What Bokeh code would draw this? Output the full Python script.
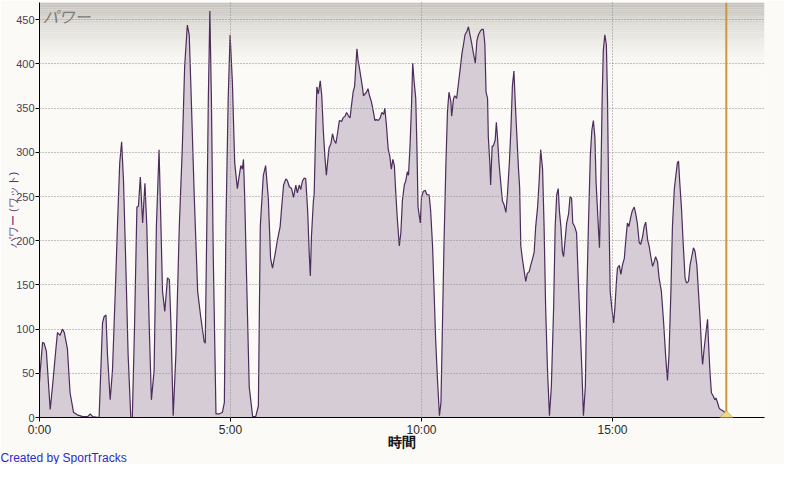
from bokeh.plotting import figure
from bokeh.models import FixedTicker, Span, Label, BoxAnnotation, PolyAnnotation, Title
from bokeh.embed import file_html
from bokeh.resources import INLINE

# ---- data (time in minutes, power in watts) ----
time_min = [
    0.00, 0.02, 0.08, 0.12, 0.18, 0.28, 0.34, 0.43, 0.47, 0.54, 0.60, 0.65, 0.73, 0.80, 0.89, 0.99,
    1.13, 1.26, 1.33, 1.39, 1.56, 1.65, 1.69, 1.74, 1.78, 1.85, 1.91, 2.00, 2.04, 2.10, 2.15, 2.20,
    2.26, 2.32, 2.39, 2.43, 2.49, 2.55, 2.59, 2.64, 2.70, 2.76, 2.81, 2.87, 2.93, 3.00, 3.06, 3.13,
    3.18, 3.22, 3.28, 3.35, 3.40, 3.44, 3.50, 3.57, 3.66, 3.74, 3.80, 3.87, 3.92, 3.96, 4.05, 4.14,
    4.22, 4.31, 4.34, 4.38, 4.42, 4.46, 4.50, 4.55, 4.62, 4.70, 4.79, 4.84, 4.88, 4.94, 4.99, 5.05,
    5.11, 5.18, 5.23, 5.27, 5.31, 5.34, 5.37, 5.43, 5.49, 5.58, 5.66, 5.73, 5.78, 5.86, 5.92, 5.99,
    6.05, 6.10, 6.16, 6.23, 6.30, 6.34, 6.39, 6.45, 6.49, 6.54, 6.60, 6.65, 6.71, 6.75, 6.80, 6.84,
    6.88, 6.93, 6.97, 7.02, 7.06, 7.09, 7.12, 7.17, 7.19, 7.23, 7.26, 7.30, 7.35, 7.39, 7.43, 7.47,
    7.51, 7.54, 7.58, 7.63, 7.67, 7.71, 7.76, 7.80, 7.85, 7.91, 7.95, 8.00, 8.04, 8.09, 8.13, 8.17,
    8.21, 8.25, 8.28, 8.31, 8.34, 8.37, 8.41, 8.46, 8.48, 8.52, 8.56, 8.60, 8.64, 8.69, 8.74, 8.78,
    8.82, 8.87, 8.92, 8.96, 9.01, 9.04, 9.08, 9.13, 9.17, 9.21, 9.25, 9.29, 9.33, 9.37, 9.42, 9.46,
    9.50, 9.55, 9.59, 9.63, 9.66, 9.70, 9.74, 9.77, 9.81, 9.85, 9.88, 9.91, 9.97, 10.00, 10.05, 10.10,
    10.14, 10.20, 10.24, 10.29, 10.33, 10.37, 10.42, 10.47, 10.51, 10.55, 10.59, 10.64, 10.68, 10.72, 10.77, 10.79,
    10.84, 10.87, 10.92, 10.96, 11.01, 11.06, 11.10, 11.14, 11.19, 11.23, 11.27, 11.32, 11.36, 11.41, 11.45, 11.49,
    11.54, 11.58, 11.62, 11.66, 11.69, 11.73, 11.75, 11.79, 11.81, 11.85, 11.88, 11.93, 11.96, 11.99, 12.03, 12.08,
    12.12, 12.16, 12.21, 12.25, 12.30, 12.34, 12.38, 12.42, 12.45, 12.49, 12.54, 12.57, 12.60, 12.64, 12.69, 12.73,
    12.77, 12.82, 12.86, 12.91, 12.95, 12.99, 13.04, 13.08, 13.12, 13.17, 13.21, 13.25, 13.30, 13.35, 13.40, 13.46,
    13.50, 13.54, 13.58, 13.61, 13.65, 13.69, 13.72, 13.76, 13.80, 13.85, 13.89, 13.93, 13.96, 14.01, 14.06, 14.10,
    14.15, 14.20, 14.24, 14.29, 14.33, 14.37, 14.42, 14.46, 14.50, 14.54, 14.57, 14.63, 14.66, 14.69, 14.73, 14.76,
    14.80, 14.84, 14.87, 14.90, 14.94, 14.98, 15.03, 15.06, 15.10, 15.13, 15.18, 15.22, 15.26, 15.31, 15.35, 15.39,
    15.43, 15.48, 15.52, 15.57, 15.61, 15.65, 15.70, 15.74, 15.79, 15.83, 15.87, 15.92, 15.96, 16.00, 16.05, 16.09,
    16.13, 16.18, 16.22, 16.28, 16.34, 16.39, 16.44, 16.48, 16.53, 16.57, 16.62, 16.66, 16.70, 16.73, 16.76, 16.81,
    16.85, 16.90, 16.94, 16.99, 17.03, 17.08, 17.12, 17.16, 17.21, 17.25, 17.30, 17.34, 17.36, 17.40, 17.44, 17.49,
    17.51, 17.55, 17.59, 17.64, 17.68, 17.71, 17.75, 17.79, 17.83, 17.88, 17.94, 17.99,
]
power_w = [
    40, 53, 85, 84, 75, 9, 35, 78, 96, 93, 100, 96, 78, 28, 6, 3,
    1, 1, 4, 1, 0, 107, 114, 116, 71, 20, 53, 162, 216, 288, 312, 267,
    172, 71, 0, 0, 107, 238, 239, 272, 220, 265, 216, 107, 20, 53, 216, 303,
    216, 143, 120, 158, 156, 107, 2, 71, 216, 307, 397, 444, 433, 379, 252, 143,
    114, 86, 84, 216, 361, 460, 361, 180, 4, 4, 6, 17, 216, 361, 433, 379,
    288, 259, 274, 285, 281, 292, 252, 143, 35, 1, 1, 13, 216, 274, 285, 248,
    180, 169, 183, 201, 216, 238, 263, 270, 268, 261, 259, 249, 263, 254, 263, 258,
    267, 271, 270, 234, 187, 160, 205, 245, 252, 325, 374, 366, 381, 364, 325, 296,
    274, 288, 305, 310, 321, 314, 310, 321, 336, 335, 339, 341, 345, 341, 339, 354,
    368, 375, 397, 417, 404, 397, 386, 372, 364, 366, 368, 372, 364, 357, 346, 336,
    337, 336, 339, 345, 343, 350, 332, 303, 296, 281, 292, 285, 252, 223, 194, 209,
    245, 263, 268, 278, 274, 307, 354, 401, 379, 361, 307, 238, 220, 249, 256, 257,
    252, 252, 234, 194, 143, 89, 42, 2, 17, 107, 198, 288, 346, 368, 357, 341,
    361, 364, 361, 375, 393, 412, 422, 433, 437, 442, 433, 422, 412, 401, 426, 433,
    437, 439, 439, 422, 368, 361, 317, 288, 263, 307, 307, 314, 334, 317, 288, 263,
    245, 241, 232, 252, 288, 325, 375, 392, 361, 325, 281, 260, 194, 180, 165, 154,
    163, 165, 172, 180, 187, 216, 238, 267, 303, 281, 216, 125, 53, 2, 35, 125,
    216, 252, 259, 234, 216, 187, 182, 201, 220, 230, 250, 248, 220, 216, 209, 162,
    107, 53, 2, 35, 143, 216, 296, 325, 336, 317, 267, 216, 192, 252, 361, 415,
    433, 422, 361, 252, 143, 125, 107, 122, 151, 169, 172, 162, 172, 180, 201, 220,
    216, 227, 234, 238, 230, 220, 198, 196, 205, 216, 221, 201, 194, 183, 171, 176,
    182, 176, 158, 143, 107, 71, 42, 71, 143, 216, 259, 274, 288, 290, 267, 234,
    198, 158, 152, 154, 172, 183, 192, 188, 172, 143, 107, 71, 60, 78, 93, 111,
    89, 53, 28, 24, 20, 22, 17, 11, 9, 8, 6, 2,
]
x_ticks = [0, 5, 10, 15]
x_tick_labels = ["0:00", "5:00", "10:00", "15:00"]
y_ticks = [0, 50, 100, 150, 200, 250, 300, 350, 400, 450]
marker_time = 17.98

BG = "#FBFAF6"
FONT = "Liberation Sans"
JP = "Noto Sans CJK JP"

p = figure(width=784, height=464, output_backend="svg", toolbar_location=None,
           x_range=(0, 18.98), y_range=(0, 469.5),
           min_border_left=39, min_border_right=20, min_border_top=2, min_border_bottom=30,
           background_fill_color=BG, border_fill_color=BG, outline_line_color=None)

# top gradient band of the plot area
top_rgb = (198, 194, 189)
bg_rgb = (251, 250, 246)
n = 40
for i in range(n):
    t = i / (n - 1)
    f = (1 - t) ** 1.6
    c = tuple(int(round(b + (a - b) * f)) for a, b in zip(top_rgb, bg_rgb))
    top = 469.5 - i * 2.0
    p.add_layout(BoxAnnotation(top=top, bottom=top - 2.05, fill_color="#%02x%02x%02x" % c,
                               fill_alpha=1, line_color=None, level="underlay"))

p.varea(x=time_min, y1=0, y2=power_w, fill_color="#D5CCD6", fill_alpha=1)
p.line(x=time_min, y=power_w, line_color="#4B2C5A", line_width=1.2)

p.add_layout(Span(location=marker_time, dimension="height", line_color="#C99A3A", line_width=2))

# axes
for ax in (p.xaxis[0], p.yaxis[0]):
    ax.axis_line_color = "black"
    ax.major_tick_line_color = "black"
    ax.major_tick_in = 0
    ax.major_tick_out = 5
    ax.minor_tick_line_color = None
    ax.major_label_text_font = FONT
    ax.major_label_text_font_size = "12px"
p.xaxis.ticker = FixedTicker(ticks=x_ticks)
p.xaxis.major_label_overrides = {t: s for t, s in zip(x_ticks, x_tick_labels)}
p.xaxis.major_label_text_color = "#2a2a2a"
p.xaxis.major_tick_out = 4
p.xaxis.major_label_standoff = 1
p.xaxis.axis_label = "時間"
p.xaxis.axis_label_text_font = FONT
p.xaxis.axis_label_text_font_size = "14px"
p.xaxis.axis_label_text_font_style = "bold"
p.xaxis.axis_label_text_color = "#111111"
p.xaxis.axis_label_standoff = -6

p.yaxis.ticker = FixedTicker(ticks=y_ticks)
p.yaxis.major_label_text_color = "#4a4058"
p.yaxis.major_tick_out = 4
p.yaxis.major_label_standoff = 1
p.yaxis.major_label_text_font_size = "11px"
p.yaxis.axis_label = "パワー (ワット)"
p.yaxis.axis_label_text_font = FONT
p.yaxis.axis_label_text_font_size = "11px"
p.yaxis.axis_label_text_font_style = "normal"
p.yaxis.axis_label_text_color = "#5B3070"
p.yaxis.axis_label_standoff = -6

p.xgrid.ticker = FixedTicker(ticks=x_ticks[1:])
p.ygrid.ticker = FixedTicker(ticks=y_ticks[1:])
for g in (p.xgrid[0], p.ygrid[0]):
    g.grid_line_color = "#8a8a8a"
    g.grid_line_dash = "1 2"
    g.grid_line_width = 1
    g.level = "annotation"

# lap marker diamond
p.add_layout(PolyAnnotation(xs=[marker_time - 0.18, marker_time, marker_time + 0.18, marker_time],
                            ys=[0, 7.5, 0, -7.5], fill_color="#F0D97E", fill_alpha=1,
                            line_color="#7A6420", line_width=1))

# texts
p.add_layout(Label(x=0.08, y=468, text="パワー",
                   text_font=JP, text_font_size="16px", text_font_style="italic",
                   text_color="#7F7A75", text_baseline="top"))

credit = Title(text="Created by SportTracks", align="left", offset=-39, standoff=-4,
               vertical_align="top", text_font=FONT, text_font_size="12px",
               text_font_style="normal", text_color="#2B2BCC")
p.add_layout(credit, "below")

open("out.html", "w").write(file_html(p, INLINE))
